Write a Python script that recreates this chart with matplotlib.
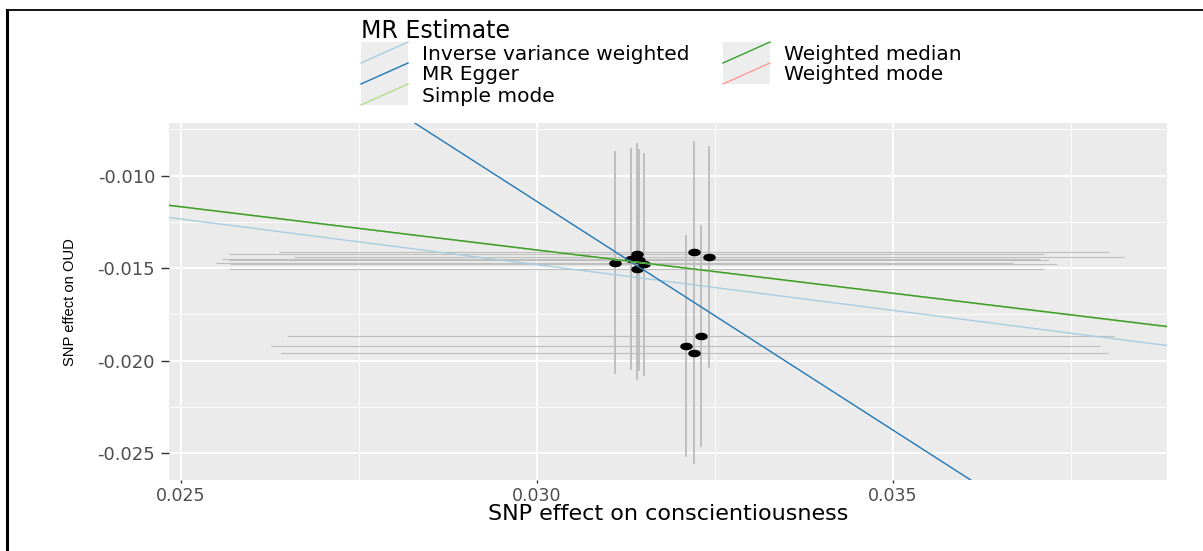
import matplotlib
matplotlib.use('Agg')
import matplotlib.pyplot as plt
import numpy as np
from matplotlib.patches import Rectangle
from matplotlib.lines import Line2D

plt.rcParams['font.family'] = ['DejaVu Sans']

# SNP effects (exposure: conscientiousness, outcome: OUD)
beta_exp = [0.03109, 0.03140, 0.03132, 0.03143, 0.03150, 0.03140,
            0.03221, 0.03241, 0.03230, 0.03209, 0.03221]
beta_out = [-0.01470, -0.01423, -0.01450, -0.01455, -0.01479, -0.01502,
            -0.01414, -0.01439, -0.01868, -0.01922, -0.01960]
se_exp = [0.00560, 0.00572, 0.00574, 0.00576, 0.00581, 0.00572,
          0.00583, 0.00583, 0.00581, 0.00582, 0.00581]
se_out = [0.00601, 0.00601, 0.00599, 0.00600, 0.00601, 0.00602,
          0.00603, 0.00601, 0.00599, 0.00599, 0.00600]

methods = ['Inverse variance weighted', 'MR Egger', 'Simple mode',
           'Weighted median', 'Weighted mode']
intercepts = [0.0, 0.0627, 0.0, 0.0, 0.0]
slopes = [-0.4937, -2.470, -0.4677, -0.4672, -0.4672]
colors = ['#a6cee3', '#1f78b4', '#b2df8a', '#33a02c', '#fb9a99']

xticks = [0.025, 0.030, 0.035]
xtick_labels = ['0.025', '0.030', '0.035']
yticks = [-0.025, -0.020, -0.015, -0.010]
ytick_labels = ['-0.025', '-0.020', '-0.015', '-0.010']

W, H = 1203, 551
fig = plt.figure(figsize=(W / 100, H / 100), dpi=100)
fig.patch.set_facecolor('white')

L, R, T, B = 169, 1167, 123.3, 480
ax = fig.add_axes([L / W, 1 - B / H, (R - L) / W, (B - T) / H])
ax.set_facecolor('#ebebeb')
for s in ax.spines.values():
    s.set_visible(False)

ax.set_xlim(0.024831, 0.038848)
ax.set_ylim(-0.026444, -0.007171)
ax.set_xticks(xticks, labels=xtick_labels)
ax.set_yticks(yticks, labels=ytick_labels)
ax.set_xticks([0.0275, 0.0325, 0.0375], minor=True)
ax.set_yticks([-0.0225, -0.0175, -0.0125, -0.0075], minor=True)
ax.grid(which='major', color='white', lw=1.3)
ax.grid(which='minor', color='white', lw=0.6)
ax.set_axisbelow(True)
ax.tick_params(which='minor', length=0)
ax.tick_params(axis='y', which='major', length=5.5, width=1, color='#333333',
               labelcolor='#4d4d4d', labelsize=13, pad=4.5)
ax.tick_params(axis='x', which='major', length=2.5, width=1, color='#333333',
               labelcolor='#4d4d4d', labelsize=12.5, pad=2.5)

# error bars
ax.errorbar(beta_exp, beta_out, yerr=se_out, fmt='none', ecolor='#bebebe',
            elinewidth=1.4, capsize=0, zorder=2)
ax.errorbar(beta_exp, beta_out, xerr=se_exp, fmt='none', ecolor='#bebebe',
            elinewidth=0.8, capsize=0, zorder=2)

t = np.linspace(0, 2 * np.pi, 40)
ellipse = list(zip(np.cos(t), 0.55 * np.sin(t)))
ax.plot(beta_exp, beta_out, linestyle='none', marker=ellipse, ms=8,
        color='black', zorder=3)

# MR estimate lines
order = [4, 0, 1, 2, 3]
for i in order:
    ax.axline((0, intercepts[i]), slope=slopes[i], color=colors[i], lw=1.0,
              zorder=4)

ax.set_xlabel('SNP effect on conscientiousness', fontsize=16, color='black')
ax.xaxis.set_label_coords(0.5, -0.068)
ax.set_ylabel('SNP effect on OUD', fontsize=10.6, color='black',
              family=['Liberation Sans'])
ax.yaxis.set_label_coords(-0.092, 0.5)

# legend and page frame, drawn in pixel coordinates
lg = fig.add_axes([0, 0, 1, 1], zorder=5)
lg.set_xlim(0, W)
lg.set_ylim(H, 0)
lg.axis('off')
lg.patch.set_alpha(0)

lg.text(361, 31, 'MR Estimate', fontsize=17, va='center', ha='left')
key_w, key_h = 47, 21
cols = [(361, 422), (723, 784)]
rows = [42, 63, 84]
for i, name in enumerate(methods):
    c, r = divmod(i, 3)
    kx, tx = cols[c]
    ky = rows[r]
    lg.add_patch(Rectangle((kx, ky), key_w, key_h, facecolor='#ededed',
                           edgecolor='none'))
    lg.add_line(Line2D([kx, kx + key_w], [ky + key_h, ky], color=colors[i],
                       lw=1.0))
    lg.text(tx, ky + key_h / 2 + 1.5, name, fontsize=14.5, va='center',
            ha='left')

lg.add_line(Line2D([7, W], [10, 10], color='black', lw=1.3))
lg.add_line(Line2D([7, 7], [10, H], color='black', lw=2.2))

fig.savefig('out.png', dpi=100)
